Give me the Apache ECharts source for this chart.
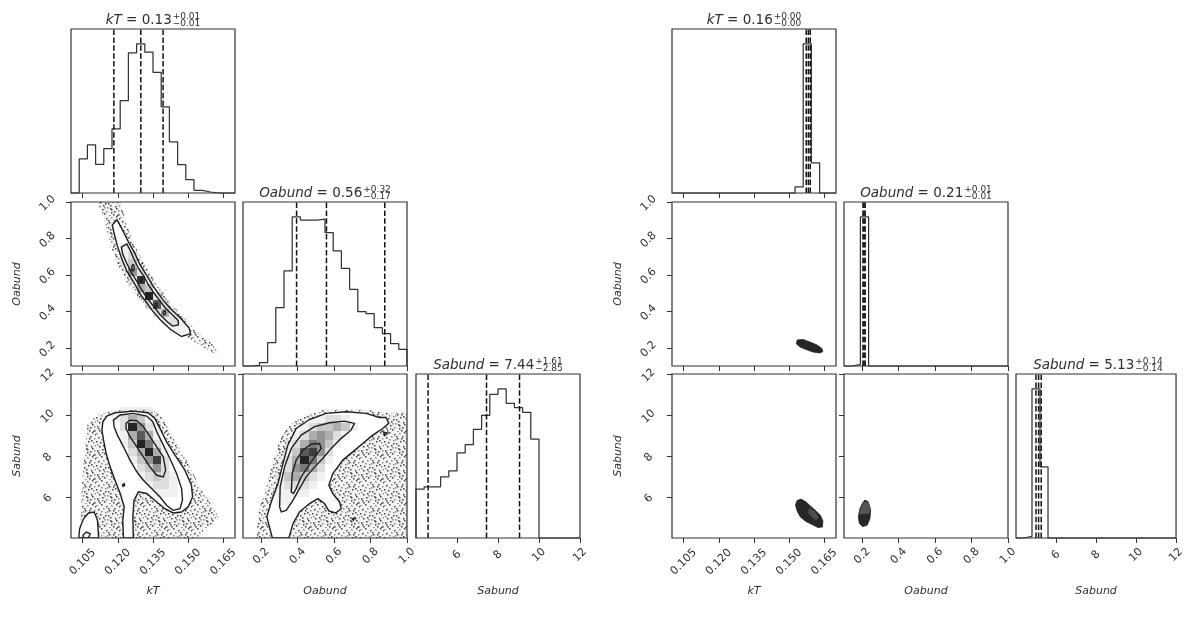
<!DOCTYPE html>
<html><head><meta charset="utf-8">
<script src="https://cdn.jsdelivr.net/npm/echarts@6/dist/echarts.min.js"></script>
<style>html,body{margin:0;padding:0;background:#fff}#c{width:1187px;height:617px}</style>
</head><body><div id="c"></div>
<script>
// ================= DATA =================
const paramNames = ['kT', 'Oabund', 'Sabund'];
const kTRange = [0.1, 0.17];
const oabRange = [0.1, 1.0];
const sabRange = [4, 12];
const kTTicks = [0.105, 0.120, 0.135, 0.150, 0.165];
const oabTicks = [0.2, 0.4, 0.6, 0.8, 1.0];
const sabTicks = [6, 8, 10, 12];

const kTEdges = [0.1000,0.1035,0.1070,0.1105,0.1140,0.1175,0.1210,0.1245,0.1280,0.1315,0.1350,0.1385,0.1420,0.1455,0.1490,0.1525,0.1560,0.1595,0.1630,0.1665,0.1700];
const oabEdges = [0.100,0.145,0.190,0.235,0.280,0.325,0.370,0.415,0.460,0.505,0.550,0.595,0.640,0.685,0.730,0.775,0.820,0.865,0.910,0.955,1.000];
const sabEdges = [4.0,4.4,4.8,5.2,5.6,6.0,6.4,6.8,7.2,7.6,8.0,8.4,8.8,9.2,9.6,10.0,10.4,10.8,11.2,11.6,12.0];

// left corner plot: 1-D histograms (counts, arbitrary units)
const leftKTHist  = [0,102,144,86,133,192,277,420,447,422,362,258,153,85,40,8,3,0,0,0];
const leftOabHist = [0,2,10,70,175,285,447,437,437,440,400,345,293,230,163,157,115,97,67,50];
const leftSabHist = [146,153,153,183,201,255,279,325,367,430,446,403,390,376,296,0,0,0,0,0];
const leftKTQuant  = [0.1183, 0.1298, 0.1393];
const leftOabQuant = [0.394, 0.558, 0.878];
const leftSabQuant = [4.59, 7.44, 9.05];
const leftTitles = [['kT','0.13','+0.01','\u22120.01'],['Oabund','0.56','+0.32','\u22120.17'],['Sabund','7.44','+1.61','\u22122.85']];

// right corner plot
const rightKTHist  = [0,0,0,0,0,0,0,0,0,0,0,0,0,0,0,18,447,90,0,0];
const rightOabHist = [0,5,447,0,0,0,0,0,0,0,0,0,0,0,0,0,0,0,0,0];
const rightSabHist = [0,5,446,213,0,0,0,0,0,0,0,0,0,0,0,0,0,0,0,0];
const rightKTQuant  = [0.1573, 0.1582, 0.1590];
const rightOabQuant = [0.204, 0.210, 0.216];
const rightSabQuant = [5.00, 5.13, 5.26];
const rightTitles = [['kT','0.16','+0.00','\u22120.00'],['Oabund','0.21','+0.01','\u22120.01'],['Sabund','5.13','+0.14','\u22120.14']];

// ---- left: kT vs Oabund ----
const lCloudKtOab = [[0.1112,1.0],[0.1140,0.917],[0.1155,0.826],[0.1168,0.760],[0.1188,0.690],[0.1210,0.630],[0.1238,0.560],[0.1268,0.500],[0.1298,0.455],[0.1333,0.410],[0.1378,0.365],[0.1428,0.318],[0.1480,0.272],[0.1540,0.222],[0.1595,0.180],[0.1621,0.166],
  [0.1630,0.180],[0.1602,0.222],[0.1562,0.262],[0.1530,0.300],[0.1503,0.337],[0.1467,0.385],[0.1432,0.435],[0.1408,0.480],[0.1382,0.525],[0.1358,0.570],[0.1322,0.640],[0.1296,0.700],[0.1270,0.770],[0.1246,0.850],[0.1226,0.930],[0.1212,1.0]];
const lC1KtOab = [[0.1196,0.903],[0.1225,0.833],[0.1245,0.781],[0.1273,0.717],[0.1292,0.662],[0.1327,0.589],[0.1349,0.541],[0.1368,0.506],[0.1394,0.460],[0.1425,0.414],[0.1470,0.359],[0.1504,0.308],[0.1510,0.278],
  [0.1472,0.262],[0.1425,0.300],[0.1380,0.355],[0.1349,0.401],[0.1323,0.447],[0.1300,0.486],[0.1273,0.548],[0.1238,0.622],[0.1220,0.677],[0.1198,0.759],[0.1186,0.818],[0.1176,0.873]];
const lC2KtOab = [[0.1238,0.770],[0.1252,0.736],[0.1269,0.686],[0.1289,0.634],[0.1312,0.590],[0.1330,0.546],[0.1353,0.502],[0.1378,0.460],[0.1402,0.420],[0.1438,0.374],[0.1458,0.348],[0.1458,0.326],
  [0.1434,0.319],[0.1412,0.341],[0.1377,0.387],[0.1353,0.427],[0.1327,0.469],[0.1302,0.517],[0.1281,0.565],[0.1258,0.612],[0.1238,0.664],[0.1221,0.713],[0.1215,0.752]];
const lC3KtOab = [
  [[0.1259,0.638],[0.1262,0.655],[0.1268,0.655],[0.1270,0.638],[0.1267,0.622],[0.1261,0.622]],
  [[0.1294,0.572],[0.1297,0.584],[0.1303,0.584],[0.1305,0.572],[0.1302,0.561],[0.1296,0.561]],
  [[0.1325,0.484],[0.1328,0.496],[0.1334,0.496],[0.1336,0.484],[0.1333,0.472],[0.1327,0.472]],
  [[0.1358,0.434],[0.1361,0.445],[0.1367,0.445],[0.1369,0.434],[0.1366,0.423],[0.1360,0.423]],
  [[0.1393,0.392],[0.1396,0.402],[0.1402,0.402],[0.1404,0.392],[0.1401,0.382],[0.1395,0.382]]];
const lDensKtOab = [
  "....................","....................","....................","....................","....................",
  "......1.............","......12............","......13............",".......52...........",".......181..........",
  "........43..........","........192.........",".........272........","..........241.......","...........121......",
  "............11......","....................","....................","....................","...................."];

// ---- left: kT vs Sabund ----
const lCloudKtSab = [[0.1040,4.0],[0.1043,5.84],[0.1054,7.80],[0.1071,9.59],[0.1111,10.00],[0.1167,10.21],[0.1266,10.27],[0.1351,10.24],[0.1394,9.83],[0.1436,8.94],[0.1493,7.80],[0.1550,6.49],[0.1606,5.52],[0.1628,5.03],[0.1606,4.70],[0.1564,4.37],[0.1550,4.0]];
const lC1aKtSab = [[0.1136,9.67],[0.1153,9.95],[0.1188,10.11],[0.1266,10.19],[0.1330,10.11],[0.1358,9.83],[0.1380,9.34],[0.1408,8.69],[0.1444,8.04],[0.1486,7.31],[0.1514,6.57],[0.1519,6.00],[0.1500,5.52],[0.1472,5.27],[0.1436,5.22],[0.1401,5.43],[0.1366,5.76],[0.1323,6.17],[0.1288,6.25],[0.1269,5.84],[0.1264,5.03],[0.1266,4.00],[0.1224,4.00],[0.1221,4.86],[0.1227,5.52],[0.1210,6.17],[0.1188,6.82],[0.1167,7.47],[0.1150,8.12],[0.1139,8.77],[0.1132,9.26]];
const lC1bKtSab = [[0.1033,4.0],[0.1037,4.46],[0.1054,4.95],[0.1075,5.22],[0.1099,5.27],[0.1113,4.86],[0.1118,4.0]];
const lC2KtSab = [[0.1181,9.75],[0.1210,10.00],[0.1266,10.08],[0.1323,9.95],[0.1349,9.67],[0.1366,9.18],[0.1394,8.53],[0.1422,7.88],[0.1451,7.14],[0.1472,6.41],[0.1476,5.84],[0.1465,5.43],[0.1436,5.35],[0.1408,5.60],[0.1380,6.00],[0.1344,6.41],[0.1309,6.82],[0.1281,7.23],[0.1252,7.80],[0.1224,8.45],[0.1198,9.02],[0.1184,9.43]];
const lC3KtSab = [
  [[0.1235,9.59],[0.1252,9.75],[0.1281,9.72],[0.1309,9.43],[0.1337,8.94],[0.1366,8.45],[0.1394,7.96],[0.1404,7.31],[0.1394,6.98],[0.1366,7.06],[0.1337,7.47],[0.1309,7.96],[0.1281,8.45],[0.1252,8.94],[0.1235,9.34]],
  [[0.1051,4.13],[0.1065,4.29],[0.1082,4.21],[0.1075,4.02],[0.1054,4.0]],
  [[0.1222,6.52],[0.1229,6.57],[0.1227,6.65],[0.1220,6.60]]];
const lDensKtSab = [
  "....................","....................","....................","....................",
  "......1111..........",".....12431..........","......29521.........","......14741.........","......13962.........",
  ".......24941........",".......13582........","........2352........","........12321.......",".........1221.......",
  "..........111.......","....................","....................","....................","....................","...................."];

// ---- left: Oabund vs Sabund ----
const lCloudOabSab = [[0.173,4.0],[0.182,5.19],[0.228,6.49],[0.264,7.80],[0.301,8.77],[0.356,9.51],[0.429,9.91],[0.538,10.24],[0.666,10.27],[0.794,10.24],[0.903,10.11],[1.0,10.11],[1.0,4.0]];
const lC1OabSab = [[0.261,4.0],[0.231,5.03],[0.255,5.76],[0.292,6.66],[0.319,7.63],[0.346,8.53],[0.392,9.34],[0.465,9.78],[0.556,10.08],[0.666,10.16],[0.775,10.08],[0.849,9.88],[0.885,9.88],[0.900,9.59],[0.867,9.34],[0.812,9.02],[0.757,8.61],[0.702,8.20],[0.648,7.80],[0.593,7.14],[0.571,6.57],[0.593,6.17],[0.629,5.76],[0.639,5.43],[0.608,5.22],[0.571,5.32],[0.547,5.68],[0.511,5.92],[0.465,5.68],[0.410,5.27],[0.374,4.70],[0.352,4.0]];
const lC2OabSab = [[0.301,5.52],[0.304,6.49],[0.328,7.47],[0.365,8.37],[0.419,9.02],[0.493,9.43],[0.575,9.62],[0.657,9.70],[0.712,9.59],[0.693,9.26],[0.639,8.86],[0.584,8.37],[0.538,7.88],[0.493,7.47],[0.447,6.98],[0.410,6.41],[0.374,5.84],[0.337,5.35],[0.310,5.27]];
const lC3OabSab = [
  [[0.365,6.25],[0.370,7.14],[0.392,7.80],[0.429,8.29],[0.474,8.58],[0.520,8.61],[0.529,8.37],[0.493,7.96],[0.456,7.47],[0.419,6.98],[0.392,6.41],[0.377,6.17]],
  [[0.878,9.00],[0.895,9.12],[0.872,9.16]],
  [[0.700,4.93],[0.712,4.98],[0.706,4.87]]];
const lDensOabSab = [
  "....................","....................","....................","....................","....................",
  "........11221.......",".......1233431......","......1245421.......",".....1246531........",".....137852.........",
  ".....249631.........",".....25642..........","....134321..........","....12221...........","....1111............",
  "....11..............","....................","....................","....................","...................."];

// ---- right plot blobs ----
const rBlobKtOab = [[0.1534,0.2427],[0.1559,0.2454],[0.1589,0.2317],[0.1619,0.2152],[0.1640,0.1960],[0.1644,0.1796],[0.1632,0.1713],[0.1602,0.1768],[0.1572,0.1906],[0.1546,0.2043],[0.1531,0.2207]];
const rBlobKtSab = [[0.1534,5.83],[0.1551,5.90],[0.1572,5.76],[0.1593,5.54],[0.1615,5.32],[0.1634,5.10],[0.1644,4.83],[0.1642,4.54],[0.1623,4.51],[0.1598,4.66],[0.1572,4.80],[0.1548,5.02],[0.1534,5.32],[0.1527,5.61]];
const rCoreKtSab = [[0.1586,5.45],[0.1610,5.28],[0.1624,5.01],[0.1615,4.88],[0.1596,5.04],[0.1582,5.23]];
const rBlobOabSab = [[0.2152,5.85],[0.2334,5.77],[0.2465,5.37],[0.2427,4.96],[0.2279,4.63],[0.2026,4.55],[0.1840,4.72],[0.1785,5.04],[0.1878,5.45],[0.2026,5.72]];
const rCoreOabSab = [[0.2059,5.72],[0.2317,5.76],[0.2427,5.45],[0.2388,5.21],[0.1878,5.17],[0.1917,5.45]];

// ================= LAYOUT / STYLE =================
const FONT = '"DejaVu Sans", sans-serif';
const TXT = '#2e2e2e';
const colX = [71, 243, 416, 672, 844, 1016];
const rowY = [29, 202, 374];
const SIZE = 164;
const ALPHA = [0, 0.06, 0.13, 0.22, 0.32, 0.42, 0.53, 0.65, 0.76, 0.86];
const P = {
  kT:     {name:'kT', range:kTRange, ticks:kTTicks, dec:3, edges:kTEdges, xMargin:24},
  Oabund: {name:'Oabund', range:oabRange, ticks:oabTicks, dec:1, edges:oabEdges, xMargin:18},
  Sabund: {name:'Sabund', range:sabRange, ticks:sabTicks, dec:0, edges:sabEdges, xMargin:17}
};

// speckle texture used to render the scattered-sample regions (style only)
const speck = document.createElement('canvas');
speck.width = 24; speck.height = 24;
(function(){
  const g = speck.getContext('2d');
  const dots = [[0,1],[5,0],[10,2],[15,1],[20,0],[2,5],[7,4],[13,6],[18,4],[22,6],[0,9],[4,10],[9,8],[12,11],[16,9],[21,10],
    [3,14],[7,13],[11,15],[14,13],[19,14],[23,13],[1,18],[6,17],[10,19],[15,17],[18,19],[22,18],[3,22],[8,21],[13,23],[17,22],
    [21,23],[5,7],[17,6],[9,11],[1,12],[12,4],[20,16],[6,20],[15,20],[23,2],[8,15],[19,8],[2,20],[11,7],[14,16],[22,22]];
  dots.forEach((d, k) => { g.fillStyle = k % 3 ? 'rgba(25,25,25,0.8)' : 'rgba(60,60,60,0.55)'; g.fillRect(d[0], d[1], 1.5, 1.5); });
})();
const measurer = document.createElement('canvas').getContext('2d');

const grid = [], xAxis = [], yAxis = [], series = [], graphic = [];

function makeAxis(g, p, showLabels, dim) {
  return {
    gridIndex: g, type: 'value', min: p.range[0], max: p.range[1],
    axisLine: {show: false}, splitLine: {show: false},
    axisTick: {show: true, inside: false, length: 5, lineStyle: {color: '#333', width: 1}, customValues: p.ticks},
    axisLabel: {show: showLabels, customValues: p.ticks, rotate: 45, align: 'center', verticalAlign: 'middle',
      margin: dim === 'x' ? p.xMargin : 22, padding: dim === 'x' ? 0 : [4, 4, 0, 0],
      fontSize: 11, color: TXT, fontFamily: FONT, formatter: v => (+v).toFixed(p.dec)},
    name: showLabels ? p.name : '', nameLocation: 'middle', nameGap: 48,
    nameTextStyle: {fontStyle: 'italic', fontSize: 11, color: TXT, fontFamily: FONT}
  };
}
function stepPoints(edges, h) {
  const pts = [[edges[0], 0]];
  for (let k = 0; k < h.length; k++) { pts.push([edges[k], h[k]]); pts.push([edges[k + 1], h[k]]); }
  pts.push([edges[h.length], 0]);
  return pts;
}
function polySeries(g, pts, style, z) {
  return {type: 'custom', xAxisIndex: g, yAxisIndex: g, data: [pts[0]], clip: true, silent: true, animation: false, z: z,
    renderItem: (params, api) => ({type: 'polygon', shape: {points: pts.map(p => api.coord(p))}, style: style})};
}
function densitySeries(g, rows, xe, ye) {
  const data = [];
  rows.forEach((s, ri) => {
    const j = rows.length - 1 - ri;
    for (let i = 0; i < s.length; i++) { const ch = s[i]; if (ch !== '.') data.push([xe[i], xe[i + 1], ye[j], ye[j + 1], +ch]); }
  });
  return {type: 'custom', xAxisIndex: g, yAxisIndex: g, data: data, encode: {x: [0, 1], y: [2, 3]}, clip: true, silent: true, animation: false, z: 3,
    renderItem: (params, api) => {
      const a = api.coord([api.value(0), api.value(3)]), b = api.coord([api.value(1), api.value(2)]);
      const x0 = Math.round(a[0]), y0 = Math.round(a[1]), x1 = Math.round(b[0]), y1 = Math.round(b[1]);
      return {type: 'rect', shape: {x: x0, y: y0, width: x1 - x0, height: y1 - y0}, style: {fill: 'rgba(0,0,0,' + ALPHA[api.value(4)] + ')'}};
    }};
}
function txt(x, y, s, style, size) {
  return {type: 'text', x: x, y: y, silent: true, z: 20,
    style: {text: s, fill: TXT, fontFamily: 'DejaVu Sans', fontSize: size, fontStyle: style,
      align: 'left', verticalAlign: 'middle', textAlign: 'left', textVerticalAlign: 'middle'}};
}
function addTitle(cx, cy, t) {
  measurer.font = 'italic 13.5px "DejaVu Sans"'; const w1 = measurer.measureText(t[0]).width;
  measurer.font = '13.5px "DejaVu Sans"'; const w2 = measurer.measureText(' = ' + t[1]).width;
  measurer.font = '9px "DejaVu Sans"'; const w3 = Math.max(measurer.measureText(t[2]).width, measurer.measureText(t[3]).width);
  const x = cx - (w1 + w2 + 1 + w3) / 2;
  graphic.push(txt(x, cy, t[0], 'italic', 13.5));
  graphic.push(txt(x + w1, cy, ' = ' + t[1], 'normal', 13.5));
  graphic.push(txt(x + w1 + w2 + 1, cy - 4, t[2], 'normal', 9));
  graphic.push(txt(x + w1 + w2 + 1, cy + 3.5, t[3], 'normal', 9));
}

const CONTOUR = {fill: 'none', stroke: '#1e1e1e', lineWidth: 1.4};
const plots = [
  {off: 0, hists: [leftKTHist, leftOabHist, leftSabHist], quants: [leftKTQuant, leftOabQuant, leftSabQuant], titles: leftTitles,
   pairs: {
     '1_0': {clouds: [lCloudKtOab], whites: [lC1KtOab], dens: lDensKtOab, contours: [lC1KtOab, lC2KtOab].concat(lC3KtOab), blobs: []},
     '2_0': {clouds: [lCloudKtSab], whites: [lC1aKtSab, lC1bKtSab], dens: lDensKtSab, contours: [lC1aKtSab, lC1bKtSab, lC2KtSab].concat(lC3KtSab), blobs: []},
     '2_1': {clouds: [lCloudOabSab], whites: [lC1OabSab], dens: lDensOabSab, contours: [lC1OabSab, lC2OabSab].concat(lC3OabSab), blobs: []}
   }},
  {off: 3, hists: [rightKTHist, rightOabHist, rightSabHist], quants: [rightKTQuant, rightOabQuant, rightSabQuant], titles: rightTitles,
   pairs: {
     '1_0': {clouds: [], whites: [], dens: null, contours: [], blobs: [[rBlobKtOab, '#262626']]},
     '2_0': {clouds: [], whites: [], dens: null, contours: [], blobs: [[rBlobKtSab, '#262626'], [rCoreKtSab, '#4d4d4d']]},
     '2_1': {clouds: [], whites: [], dens: null, contours: [], blobs: [[rBlobOabSab, '#262626'], [rCoreOabSab, '#555555']]}
   }}
];

function addPanel(plot, r, c) {
  const g = grid.length;
  const left = colX[plot.off + c], top = rowY[r];
  grid.push({left: left, top: top, width: SIZE, height: SIZE, show: true, borderColor: '#333', borderWidth: 1.2, backgroundColor: 'rgba(0,0,0,0)', z: 10});
  const px = P[paramNames[c]];
  xAxis.push(makeAxis(g, px, r === 2, 'x'));
  if (r === c) {
    const h = plot.hists[c];
    const ymax = 1.1 * Math.max.apply(null, h);
    yAxis.push({gridIndex: g, type: 'value', min: 0, max: ymax, show: false});
    series.push({type: 'line', xAxisIndex: g, yAxisIndex: g, data: stepPoints(px.edges, h), showSymbol: false, symbol: 'none',
      lineStyle: {color: '#333', width: 1.25}, animation: false, silent: true, z: 3});
    plot.quants[c].forEach(q => series.push({type: 'line', xAxisIndex: g, yAxisIndex: g, data: [[q, 0], [q, ymax]], symbol: 'none', showSymbol: false,
      lineStyle: {color: '#111', width: 1.5, type: [5.5, 2.4]}, animation: false, silent: true, z: 4}));
    addTitle(left + SIZE / 2, top - 8.5, plot.titles[c]);
  } else {
    const py = P[paramNames[r]];
    yAxis.push(makeAxis(g, py, c === 0, 'y'));
    const d = plot.pairs[r + '_' + c];
    d.clouds.forEach(pts => {
      series.push(polySeries(g, pts, {fill: 'rgba(0,0,0,0.05)', stroke: 'none'}, 1));
      series.push(polySeries(g, pts, {fill: {image: speck, repeat: 'repeat'}, stroke: 'none'}, 1));
    });
    d.whites.forEach(pts => series.push(polySeries(g, pts, {fill: '#fff', stroke: 'none'}, 2)));
    if (d.dens) series.push(densitySeries(g, d.dens, px.edges, py.edges));
    d.blobs.forEach(b => series.push(polySeries(g, b[0], {fill: b[1], stroke: b[1], lineWidth: 0.8}, 3)));
    d.contours.forEach(pts => series.push(polySeries(g, pts, CONTOUR, 5)));
  }
}

plots.forEach(pl => {
  addPanel(pl, 0, 0);
  addPanel(pl, 1, 0); addPanel(pl, 1, 1);
  addPanel(pl, 2, 0); addPanel(pl, 2, 1); addPanel(pl, 2, 2);
});

const chart = echarts.init(document.getElementById('c'), null, {renderer: 'canvas', width: 1187, height: 617});
chart.setOption({backgroundColor: '#fff', animation: false, grid: grid, xAxis: xAxis, yAxis: yAxis, series: series, graphic: graphic});
</script>
</body></html>
